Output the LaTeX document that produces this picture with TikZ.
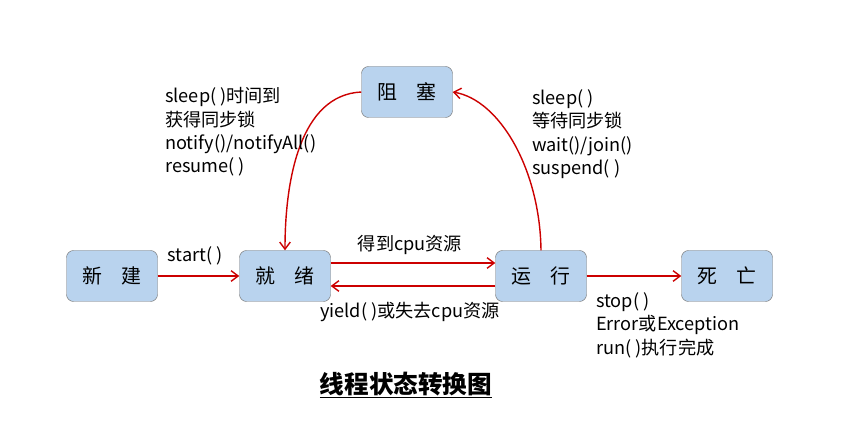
\documentclass[tikz,border=0pt]{standalone}
\usepackage{fontspec}
\setmainfont{Noto Sans CJK SC}
\usetikzlibrary{arrows.meta}
\definecolor{nodefill}{HTML}{B9D3EE}
\begin{document}
\begin{tikzpicture}[x=0.03cm,y=-0.03cm,
  st/.style={draw=black!55,fill=nodefill,rounded corners=6pt,minimum width=91*0.03cm,minimum height=51*0.03cm,font=\fontsize{17}{20}\selectfont},
  ar/.style={draw=red!80!black,line width=1.2pt,-{Straight Barb[length=6pt,width=9pt]}},
  lb/.style={font=\fontsize{15.5}{20}\selectfont,align=left,inner sep=0pt}]
\useasboundingbox (0,0) rectangle (854,425);
\node[st] (new) at (112,276) {新\hspace{1em}建};
\node[st] (ready) at (285,276) {就\hspace{1em}绪};
\node[st] (run) at (541,276) {运\hspace{1em}行};
\node[st] (dead) at (727,276) {死\hspace{1em}亡};
\node[st] (block) at (407,92) {阻\hspace{1em}塞};
\draw[ar] (new) -- (ready);
\draw[ar] (ready.east|-0,263) -- (run.west|-0,263);
\draw[ar] (run.west|-0,286) -- (ready.east|-0,286);
\draw[ar] (run) -- (dead);
\draw[ar] (block.west) .. controls (300,95) and (285,180) .. (ready.north);
\draw[ar] (run.north) .. controls (540,170) and (500,100) .. (block.east);
\node[lb,anchor=west] (l1) at (165,132) {sleep( )时间到\\获得同步锁\\notify()/notifyAll()\\resume( )};
\node[lb,anchor=west] (l2) at (532,134) {sleep( )\\等待同步锁\\wait()/join()\\suspend( )};
\node[lb,anchor=west] (l3) at (596,325) {stop( )\\Error或Exception\\run( )执行完成};
\node[lb] (l4) at (195,256) {start( )};
\node[lb] (l5) at (410,245) {得到cpu资源};
\node[lb] (l6) at (410,312) {yield( )或失去cpu资源};
\node[font=\fontsize{21}{24}\selectfont\bfseries] (t) at (406,385) {\underline{线程状态转换图}};
\end{tikzpicture}
\end{document}
